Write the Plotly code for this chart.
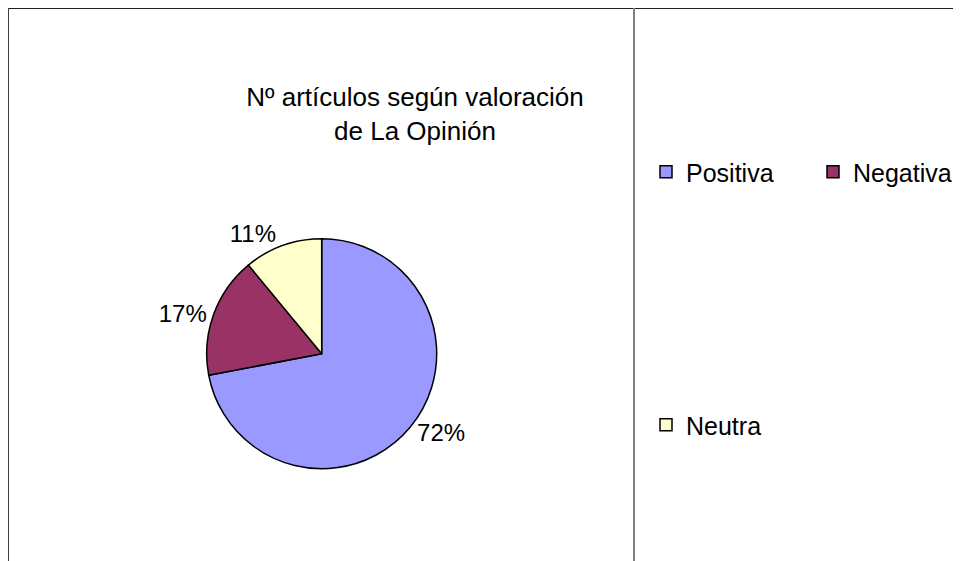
import plotly.graph_objects as go

# data
labels = ['Positiva', 'Negativa', 'Neutra']
values = [72, 17, 11]
colors = ['#9999FF', '#993366', '#FFFFCC']
title_text = 'Nº artículos según valoración<br>de La Opinión'

W, H = 961, 561
FONT = 'Liberation Sans, Arial, sans-serif'
OFF = 8  # page body margin shifts everything by 8px on screen


def px_x(v):
    return (v - OFF) / W


def px_y(v):
    return 1 - (v - OFF) / H


fig = go.Figure()

# pie: centre (322, 354), radius 115 px (screen coords)
cx, cy, r = 321.7, 353.7, 115
fig.add_trace(go.Pie(
    labels=labels, values=values, sort=False, direction='clockwise',
    marker=dict(colors=colors, line=dict(color='black', width=1.5)),
    textinfo='percent', textposition='outside', texttemplate='%{percent:.0%}',
    outsidetextfont=dict(size=24, color='black', family=FONT),
    showlegend=False, hoverinfo='label+percent',
    domain=dict(x=[px_x(cx - r), px_x(cx + r)], y=[px_y(cy + r), px_y(cy - r)]),
))

# legend entries (pie legend can't be split, so use empty marker traces)
legend_pos = {'legend': (646, 172), 'legend2': (813, 172), 'legend3': (646, 425)}
for lab, col, lg in zip(labels, colors, ['legend', 'legend2', 'legend3']):
    fig.add_trace(go.Scatter(
        x=[None], y=[None], mode='markers', name=lab, legend=lg,
        marker=dict(symbol='square', size=12, color=col,
                    line=dict(color='black', width=1.5)),
    ))

legend_style = dict(font=dict(size=25, color='black', family=FONT),
                    bgcolor='rgba(0,0,0,0)', borderwidth=0,
                    xanchor='left', yanchor='middle')
for lg, (lx, ly) in legend_pos.items():
    fig.layout[lg] = dict(x=px_x(lx), y=px_y(ly), **legend_style)

# frame lines: outer border (left/top) and divider before legend area
shapes = [
    dict(type='line', xref='paper', yref='paper', x0=px_x(8), x1=1, y0=px_y(8), y1=px_y(8),
         line=dict(color='#202020', width=2)),
    dict(type='line', xref='paper', yref='paper', x0=px_x(8), x1=px_x(8), y0=0, y1=px_y(8),
         line=dict(color='#404040', width=2)),
    dict(type='line', xref='paper', yref='paper', x0=px_x(634), x1=px_x(634), y0=0, y1=px_y(8),
         line=dict(color='#808080', width=2)),
]

fig.update_layout(
    width=W, height=H,
    margin=dict(l=0, r=0, t=0, b=0),
    paper_bgcolor='white', plot_bgcolor='white',
    title=dict(text=title_text, x=px_x(415), xanchor='center',
               y=px_y(106), yanchor='middle',
               font=dict(size=26, color='black', family=FONT)),
    xaxis=dict(visible=False), yaxis=dict(visible=False),
    shapes=shapes,
)

fig.write_html('out.html')
